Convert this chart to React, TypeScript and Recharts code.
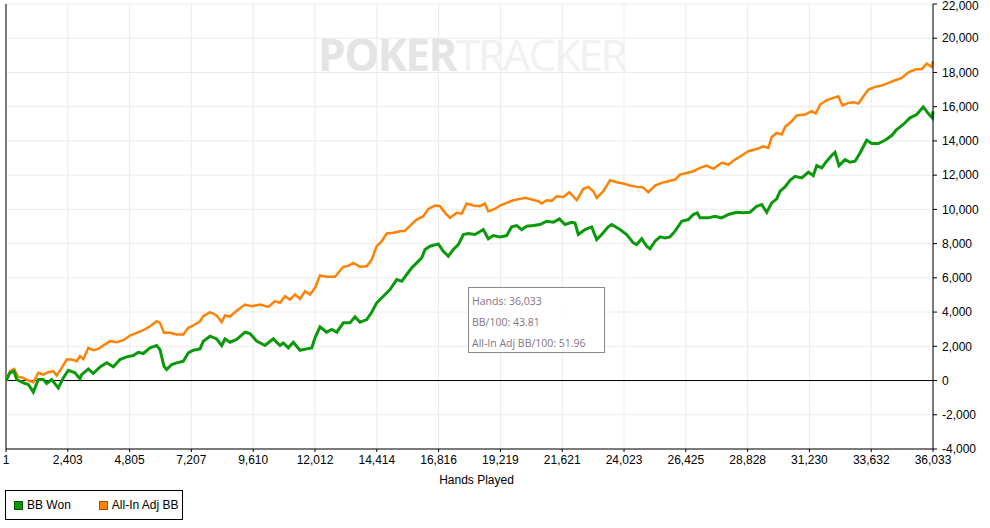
import React from "react";
import { LineChart, Line, XAxis, YAxis, CartesianGrid, ReferenceLine, Legend } from "recharts";

// hands played -> cumulative big blinds
const bbWonHands = [
    1, 156, 312, 417, 673, 868, 1062, 1257, 1451, 1583, 1777, 2034, 2228, 2423, 2683, 2877, 2943, 3200, 3394, 3655,
    3915, 4172, 4432, 4692, 4949, 5143, 5338, 5598, 5859, 5987, 6142, 6247, 6442, 6636, 6893, 7087, 7281, 7542, 7670, 7931,
    8191, 8385, 8513, 8708, 8968, 9291, 9485, 9745, 10068, 10391, 10651, 10780, 10974, 11168, 11429, 11689, 11884, 12012, 12206, 12467,
    12661, 12856, 13112, 13372, 13567, 13761, 14022, 14216, 14410, 14667, 14927, 15187, 15382, 15576, 15771, 15965, 16160, 16288, 16482, 16805,
    17000, 17194, 17388, 17583, 17777, 17971, 18231, 18554, 18748, 18943, 19203, 19463, 19658, 19852, 20046, 20241, 20498, 20758, 21018, 21278,
    21511, 21729, 21989, 22119, 22246, 22506, 22766, 22961, 23155, 23412, 23543, 23866, 24126, 24384, 24516, 24710, 24904, 25033, 25228, 25422,
    25616, 25811, 26005, 26265, 26522, 26718, 26872, 26977, 27300, 27560, 27820, 28080, 28403, 28660, 28920, 29181, 29375, 29570, 29764, 29958,
    30087, 30281, 30476, 30670, 30930, 31187, 31381, 31514, 31708, 31900, 32095, 32224, 32379, 32613, 32807, 33002, 33196, 33456, 33651, 33907,
    34167, 34427, 34622, 34879, 35139, 35400, 35656, 35851, 36006, 36033,
];
const bbWonValues = [
    0, 450, 545, 60, -135, -230, -680, 60, 60, -175, 60, -430, 155, 600, 450, 100, 350, 680, 410, 800,
    1035, 800, 1230, 1385, 1460, 1650, 1580, 1910, 2045, 1810, 835, 640, 935, 1035, 1130, 1620, 1770, 1850, 2300, 2590,
    2435, 2045, 2435, 2240, 2400, 2825, 2745, 2300, 2045, 2435, 2045, 2200, 1910, 2240, 1770, 1850, 1900, 2495, 3135, 2825,
    2980, 2825, 3370, 3370, 3720, 3410, 3565, 3990, 4540, 4925, 5315, 5900, 5800, 6195, 6585, 6875, 7170, 7655, 7850, 7985,
    7555, 7265, 7655, 7945, 8530, 8590, 8530, 8820, 8280, 8470, 8395, 8470, 8980, 9055, 8820, 9015, 9055, 9115, 9310, 9250,
    9445, 9115, 9250, 9200, 8530, 8820, 8980, 8240, 8530, 8980, 9115, 8820, 8530, 8045, 7945, 8280, 7850, 7695, 8140, 8395,
    8335, 8395, 8725, 9310, 9405, 9700, 9800, 9505, 9505, 9600, 9505, 9700, 9835, 9800, 9835, 10185, 10285, 9835, 10380, 10615,
    11060, 11315, 11700, 11935, 11840, 12170, 11975, 12560, 12425, 12815, 13150, 13340, 12560, 12910, 12755, 12815, 13300, 14040, 13850, 13850,
    14040, 14315, 14665, 14960, 15350, 15540, 15990, 15600, 15350, 15735,
];

const adjHands = [
    1, 156, 312, 478, 673, 868, 1062, 1257, 1451, 1646, 1840, 1972, 2166, 2361, 2555, 2750, 2877, 3006, 3200, 3394,
    3589, 3783, 4043, 4304, 4560, 4821, 5081, 5338, 5598, 5859, 5987, 6142, 6375, 6636, 6893, 7087, 7281, 7542, 7670, 7931,
    8191, 8385, 8513, 8708, 8968, 9291, 9550, 9874, 10197, 10457, 10651, 10846, 11040, 11235, 11429, 11623, 11818, 12012, 12206, 12467,
    12790, 13112, 13307, 13501, 13761, 14022, 14216, 14410, 14605, 14799, 15058, 15318, 15512, 15706, 15965, 16222, 16417, 16677, 16871, 17066,
    17260, 17520, 17712, 17907, 18165, 18423, 18617, 18748, 19008, 19203, 19463, 19723, 19982, 20177, 20437, 20693, 20824, 21018, 21213, 21407,
    21664, 21898, 22186, 22441, 22636, 22830, 22961, 23220, 23477, 23737, 23994, 24254, 24516, 24749, 24967, 25228, 25488, 25745, 26005, 26200,
    26461, 26718, 26977, 27235, 27494, 27820, 28080, 28340, 28597, 28857, 29181, 29440, 29634, 29764, 29958, 30153, 30285, 30541, 30736, 31062,
    31319, 31475, 31646, 31903, 32163, 32357, 32512, 32746, 32940, 33135, 33329, 33524, 33784, 34040, 34300, 34561, 34817, 35077, 35338, 35594,
    35789, 35983, 36033,
];
const adjValues = [
    0, 545, 680, 215, 155, 0, -100, 450, 350, 485, 545, 290, 740, 1230, 1230, 1130, 1420, 1250, 1910, 1770,
    1850, 2045, 2300, 2240, 2355, 2630, 2785, 2940, 3175, 3465, 3370, 2785, 2785, 2690, 2690, 3080, 3215, 3465, 3760, 3990,
    3800, 3410, 3800, 3740, 4080, 4440, 4340, 4440, 4305, 4635, 4540, 4925, 4730, 5025, 4770, 5220, 5025, 5415, 6135, 6060,
    6060, 6645, 6700, 6875, 6645, 6680, 7070, 7850, 8140, 8590, 8630, 8725, 8750, 9055, 9405, 9600, 10030, 10225, 10185, 9800,
    9505, 9800, 9750, 10340, 10225, 10185, 10340, 9890, 10030, 10225, 10380, 10535, 10615, 10675, 10575, 10475, 10340, 10535, 10500, 10770,
    10730, 11000, 10535, 11200, 11315, 11060, 10675, 11060, 11700, 11590, 11510, 11395, 11315, 11300, 11000, 11395, 11550, 11645, 11745, 12035,
    12130, 12230, 12425, 12560, 12370, 12720, 12620, 12910, 13150, 13400, 13530, 13690, 13590, 14230, 14465, 14375, 14820, 15150, 15485, 15540,
    15735, 15600, 16125, 16380, 16515, 16610, 16070, 16225, 16265, 16185, 16610, 17000, 17160, 17235, 17390, 17545, 17685, 18010, 18170, 18205,
    18520, 18325, 18655,
];

const handTicks = [1, 2403, 4805, 7207, 9610, 12012, 14414, 16816, 19219, 21621, 24023, 26425, 28828, 31230, 33632, 36033];
const bbTicks = [-4000, -2000, 0, 2000, 4000, 6000, 8000, 10000, 12000, 14000, 16000, 18000, 20000, 22000];

const seriesNames = ["BB Won", "All-In Adj BB"];
const seriesColors = ["#0a990a", "#ff8205"];
const summaryLines = ["Hands: 36,033", "BB/100: 43.81", "All-In Adj BB/100: 51.96"];

const bbWonData = bbWonHands.map((h, i) => ({ hands: h, bb: bbWonValues[i] }));
const adjData = adjHands.map((h, i) => ({ hands: h, bb: adjValues[i] }));

const font = "'Liberation Sans', Arial, sans-serif";
const fmt = (v: number) => v.toLocaleString("en-US");

// right axis tick; the top label is nudged down so it is not clipped
function BbTick(props: any) {
    const { x, y, payload } = props;
    const top = payload.value === bbTicks[bbTicks.length - 1];
    return (
        <text x={x} y={top ? y + 2 : y} dy="0.355em" textAnchor="start" fill="#000" fontSize={12} fontFamily={font}>
            {fmt(payload.value)}
        </text>
    );
}

function LegendBox() {
    const borders = ["#005500", "#a85200"];
    return (
        <div
            style={{
                border: "1px solid #000",
                width: 178,
                height: 30,
                display: "flex",
                alignItems: "center",
                fontFamily: font,
                fontSize: 12,
                boxSizing: "border-box",
                paddingLeft: 8,
                background: "#fff",
            }}
        >
            {seriesNames.map((name, i) => (
                <div key={name} style={{ display: "flex", alignItems: "center", marginRight: i === 0 ? 28 : 0 }}>
                    <span
                        style={{
                            display: "inline-block",
                            width: 7,
                            height: 7,
                            background: seriesColors[i],
                            border: `1px solid ${borders[i]}`,
                            marginRight: 4,
                        }}
                    />
                    {name}
                </div>
            ))}
        </div>
    );
}

export default function App() {
    return (
        <div style={{ position: "relative", width: 990, height: 528, background: "#fff" }}>
            <style>{"body{margin:0}"}</style>
            <div
                style={{
                    position: "absolute",
                    left: 318,
                    top: 24,
                    fontFamily: "'Open Sans', sans-serif",
                    fontSize: 44,
                    lineHeight: "60px",
                    whiteSpace: "nowrap",
                }}
            >
                <span style={{ fontWeight: 700, color: "#e4e4e4", letterSpacing: -1.5 }}>POKER</span>
                <span style={{ color: "#f1f1f1", letterSpacing: -2.3 }}>TRACKER</span>
            </div>
            <div style={{ position: "absolute", left: 0, top: 0 }}>
                <LineChart width={990} height={528} margin={{ top: 4, right: 0, left: 6, bottom: 44 }}>
                    <CartesianGrid stroke="#ebebeb" />
                    <XAxis
                        dataKey="hands"
                        type="number"
                        domain={[1, 36033]}
                        ticks={handTicks}
                        interval={0}
                        tickFormatter={fmt}
                        height={35}
                        tickSize={3}
                        tickMargin={3}
                        stroke="#000"
                        tick={{ fill: "#000", fontSize: 12, fontFamily: font }}
                        label={{
                            value: "Hands Played",
                            position: "insideBottom",
                            offset: 0,
                            dx: 7,
                            fill: "#000",
                            fontSize: 12,
                            fontFamily: font,
                        }}
                    />
                    <YAxis
                        dataKey="bb"
                        orientation="right"
                        domain={[-4000, 22000]}
                        ticks={bbTicks}
                        interval={0}
                        width={57}
                        tickSize={4}
                        tickMargin={5}
                        stroke="#000"
                        tick={<BbTick />}
                    />
                    <ReferenceLine y={0} stroke="#000" strokeWidth={1} />
                    <ReferenceLine x={1} stroke="#000" strokeWidth={1} />
                    <Line
                        data={adjData}
                        dataKey="bb"
                        name={seriesNames[1]}
                        type="linear"
                        stroke={seriesColors[1]}
                        strokeWidth={2.5}
                        dot={false}
                        isAnimationActive={false}
                    />
                    <Line
                        data={bbWonData}
                        dataKey="bb"
                        name={seriesNames[0]}
                        type="linear"
                        stroke={seriesColors[0]}
                        strokeWidth={3}
                        dot={false}
                        isAnimationActive={false}
                    />
                    <Legend
                        layout="horizontal"
                        verticalAlign="middle"
                        align="center"
                        content={() => <LegendBox />}
                        wrapperStyle={{ top: 490, left: 5, width: 180, height: 32 }}
                    />
                </LineChart>
            </div>
            <div
                style={{
                    position: "absolute",
                    left: 468,
                    top: 287,
                    width: 137,
                    height: 66,
                    boxSizing: "border-box",
                    border: "1px solid #8a8a8a",
                    background: "rgba(255,255,255,0.85)",
                    fontFamily: "'Open Sans', sans-serif",
                    fontSize: 10.5,
                    color: "#857385",
                    padding: "3px 0 0 3px",
                    lineHeight: "21px",
                }}
            >
                {summaryLines.map((t) => (
                    <div key={t}>{t}</div>
                ))}
            </div>
        </div>
    );
}
